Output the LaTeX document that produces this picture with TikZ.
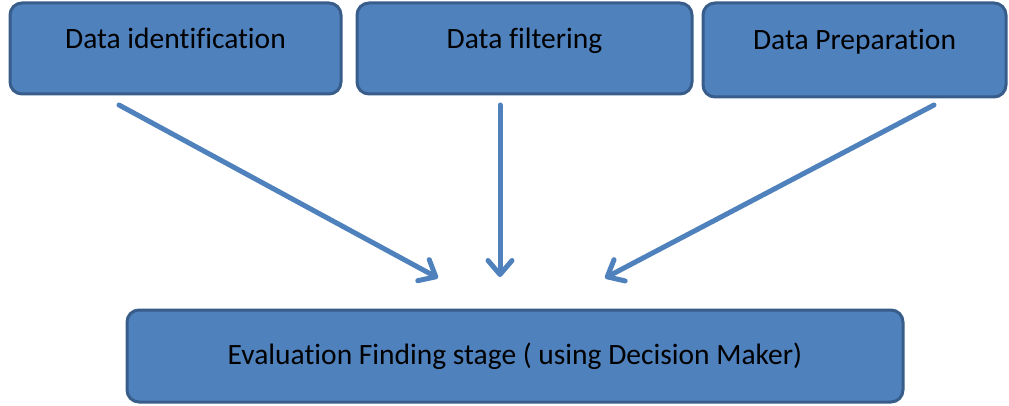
\documentclass[tikz,border=0pt]{standalone}
\usepackage{fontspec}
\setmainfont[Ligatures={NoCommon}]{Carlito}
\usetikzlibrary{arrows.meta}
\definecolor{boxfill}{HTML}{4F81BD}
\definecolor{boxline}{HTML}{385D8A}
\begin{document}
\begin{tikzpicture}[x=1pt,y=1pt]
		\tikzstyle{stage}=[draw=boxline,fill=boxfill,line width=3pt,rounded corners=12pt,minimum height=91pt,font=\fontsize{29.5}{34}\selectfont]
		\tikzstyle{flow}=[draw=boxfill,line width=5pt,line cap=round,-{Straight Barb[length=14pt,width=24pt,round]}]
		\useasboundingbox (0,0) rectangle (1009,405);
 
		\node[stage,minimum width=331pt,text height=20pt,text depth=20pt](ident) at (175.5,356.5){Data identification};
		\node[stage,minimum width=335pt,text height=20pt,text depth=20pt](filt) at (524.5,356.5){Data filtering};
		\node[stage,minimum width=303pt,minimum height=94pt,text height=20pt,text depth=20pt](prep) at (854.5,355){Data Preparation};
%
		\node[stage,minimum width=776pt,minimum height=92pt](eval) at (515,49){Evaluation Finding stage ( using Decision Maker)};
 
		\coordinate (e1) at (438,127);
		\coordinate (e2) at (500,128);
		\coordinate (e3) at (605,127);
 
		\draw[flow] (119,300) -- (e1);
		\draw[flow] (500,300) -- (e2);
		\draw[flow] (934,300) -- (e3);
	\end{tikzpicture}
\end{document}
